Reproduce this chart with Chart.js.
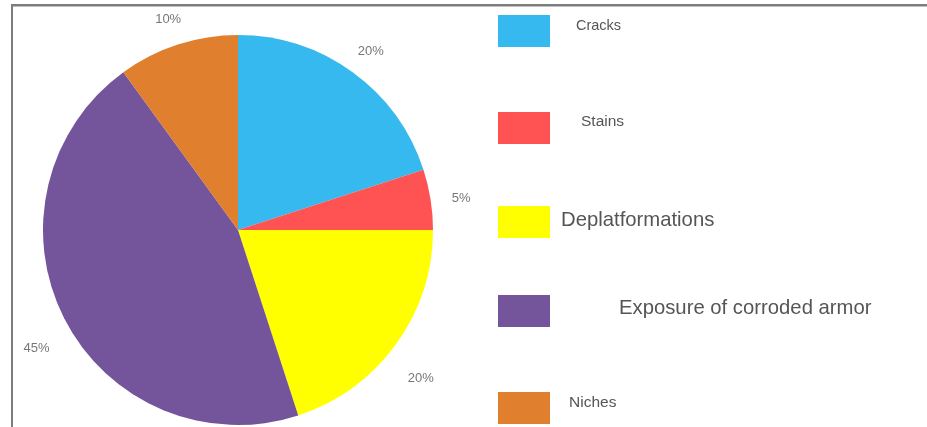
<!DOCTYPE html>
<html>
<head>
<meta charset="utf-8">
<script src="https://cdn.jsdelivr.net/npm/chart.js@4"></script>
<style>
html,body{margin:0;padding:0;background:#fff;}
#wrap{position:relative;width:927px;height:427px;}
</style>
</head>
<body>
<div id="wrap"><canvas id="c" width="927" height="427"></canvas></div>
<script>
const categories = ["Cracks", "Stains", "Deplatformations", "Exposure of corroded armor", "Niches"];
const values = [20, 5, 20, 45, 10];
const percentLabels = ["20%", "5%", "20%", "45%", "10%"];
const colors = ["#36B9EE", "#FF5252", "#FFFF00", "#74549A", "#E07F2D"];

// legend layout (pixel positions of the original figure)
const legendLayout = [
  {box: [498, 15], text: [576, 26], size: 14.5},
  {box: [498, 112], text: [581, 122], size: 15.5},
  {box: [498, 206], text: [561, 220], size: 20.3},
  {box: [498, 295], text: [619, 308], size: 20.3},
  {box: [498, 392], text: [569, 403], size: 15.5}
];

const framePlugin = {
  id: 'frame',
  beforeDraw(chart) {
    const ctx = chart.ctx;
    ctx.save();
    ctx.fillStyle = '#fff';
    ctx.fillRect(0, 0, chart.width, chart.height);
    ctx.fillStyle = '#7d7d7d';
    ctx.fillRect(11, 4, chart.width - 11, 2.5);
    ctx.fillRect(11, 4, 2, chart.height - 4);
    ctx.restore();
  }
};

const labelsPlugin = {
  id: 'pieLabels',
  afterDatasetsDraw(chart) {
    const ctx = chart.ctx;
    const meta = chart.getDatasetMeta(0);
    ctx.save();
    ctx.font = '13px "Liberation Sans", Arial, sans-serif';
    ctx.fillStyle = '#777';
    ctx.textAlign = 'center';
    ctx.textBaseline = 'middle';
    meta.data.forEach((arc, i) => {
      const mid = (arc.startAngle + arc.endAngle) / 2;
      const r = arc.outerRadius + 31;
      let x = arc.x + Math.cos(mid) * r;
      let y = arc.y + Math.sin(mid) * r + 4;
      if (Math.sin(mid) > 0.3) y += 12;
      ctx.fillText(percentLabels[i], x, y);
    });
    // legend
    categories.forEach((name, i) => {
      const L = legendLayout[i];
      ctx.fillStyle = colors[i];
      ctx.fillRect(L.box[0], L.box[1], 52, 32);
      ctx.fillStyle = '#555';
      ctx.textAlign = 'left';
      ctx.textBaseline = 'middle';
      ctx.font = L.size + 'px "Liberation Sans", Arial, sans-serif';
      ctx.fillText(name, L.text[0], L.text[1]);
    });
    ctx.restore();
  }
};

new Chart(document.getElementById('c'), {
  type: 'pie',
  data: {
    labels: categories,
    datasets: [{
      data: values,
      backgroundColor: colors,
      borderWidth: 0
    }]
  },
  options: {
    responsive: false,
    animation: false,
    layout: {padding: {left: 43, right: 494, top: 35, bottom: 2}},
    plugins: {
      legend: {display: false},
      tooltip: {enabled: false},
      title: {display: false}
    }
  },
  plugins: [framePlugin, labelsPlugin]
});
</script>
</body>
</html>
